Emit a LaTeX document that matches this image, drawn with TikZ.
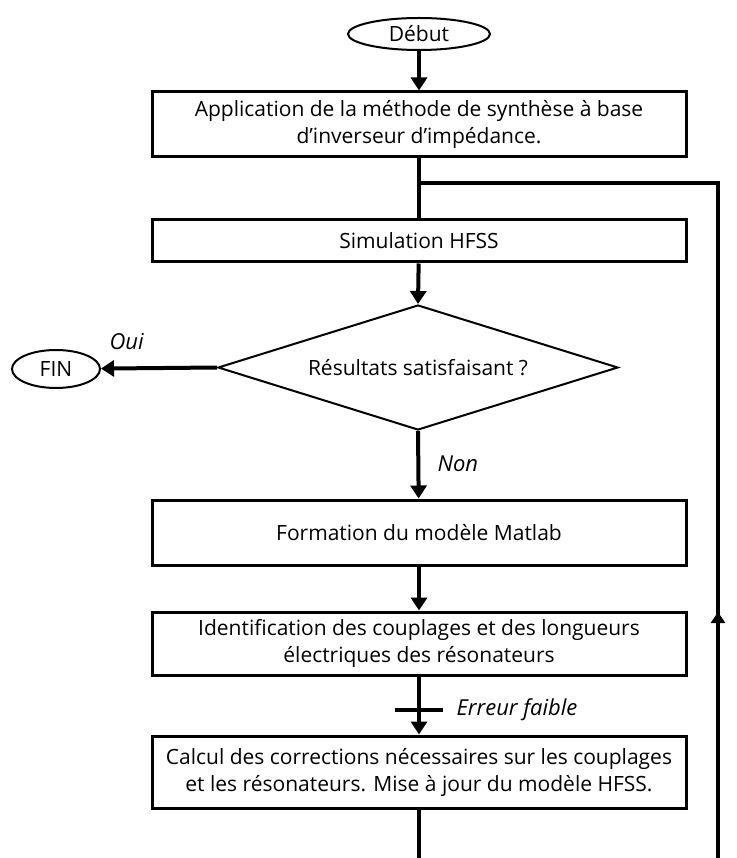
\documentclass[tikz,border=0pt]{standalone}
\usepackage{fontspec}
\setmainfont{Open Sans}
\usetikzlibrary{shapes.geometric,arrows.meta}
\begin{document}
\begin{tikzpicture}[x=1pt,y=-1pt,
  box/.style={draw,line width=3pt,minimum width=534pt,align=center,font=\fontsize{21}{27}\selectfont,inner sep=0pt},
  oval/.style={draw,ellipse,line width=2pt,font=\fontsize{21}{24}\selectfont,inner sep=0pt},
  conn/.style={line width=4pt},
  arr/.style={conn,-{Triangle[length=13pt,width=16pt]}},
  lab/.style={font=\fontsize{22}{24}\selectfont\itshape}]
\useasboundingbox (0,0) rectangle (736,858);
\node[oval,minimum width=142pt,minimum height=32pt] (deb) at (419,34) {Début};
\node[box,minimum height=65pt] (b1) at (419,124.5) {Application de la méthode de synthèse à base\\d’inverseur d’impédance.};
\node[box,minimum height=42pt] (b2) at (419,241) {Simulation HFSS};
\node[draw,diamond,line width=2pt,minimum width=400pt,minimum height=125pt,aspect=3.2,inner sep=0pt,font=\fontsize{21}{24}\selectfont] (dia) at (418,367.5) {Résultats satisfaisant ?};
\node[oval,minimum width=88pt,minimum height=38pt] (fin) at (56,369) {FIN};
\node[box,minimum height=65pt] (b3) at (419,532.5) {Formation du modèle Matlab};
\node[box,minimum height=63pt] (b4) at (419,643.5) {Identification des couplages et des longueurs\\électriques des résonateurs};
\node[box,minimum height=72pt] (b5) at (419,772) {Calcul des corrections nécessaires sur les couplages\\et les résonateurs. Mise à jour du modèle HFSS.};
\coordinate (j) at (419,183);
\coordinate (r1) at (718,183);
\coordinate (r2) at (718,858);
\coordinate (bot) at (419,858);
\coordinate (xl) at (395,710);
\coordinate (xr) at (443,710);
\coordinate (ta) at (718,650);
\coordinate (tb) at (718,612);
\draw[arr] (deb) -- (b1);
\draw[conn] (b1) -- (b2);
\draw[conn] (j) -- (r1) -- (r2);
\draw[-{Triangle[length=11pt,width=14pt]},line width=4pt] (ta) -- (tb);
\draw[arr] (b2) -- (dia.north);
\draw[arr] (dia.west) -- (fin);
\draw[arr] (dia.south) -- (b3);
\draw[arr] (b3) -- (b4);
\draw[arr] (b4) -- (b5);
\draw[conn] (xl) -- (xr);
\draw[conn] (b5) -- (bot);
\node[lab,anchor=west] (oui) at (106,342) {Oui};
\node[lab,anchor=west] (non) at (434,464) {Non};
\node[lab,anchor=west] (err) at (453,710) {Erreur faible};
\end{tikzpicture}
\end{document}
